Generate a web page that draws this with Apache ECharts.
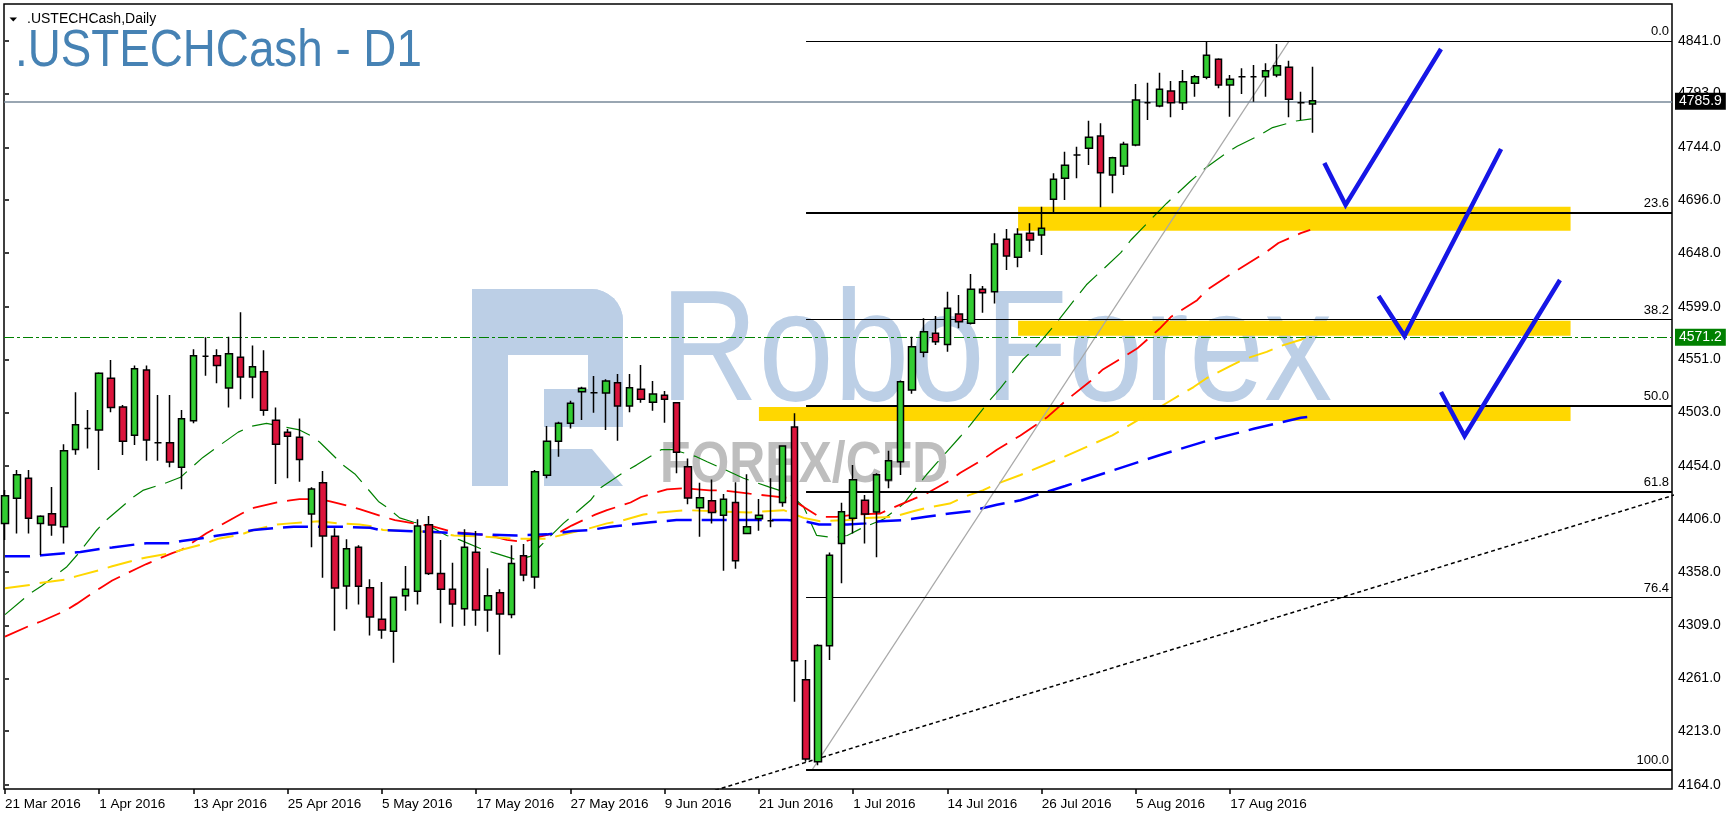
<!DOCTYPE html>
<html><head><meta charset="utf-8">
<script src="https://cdn.jsdelivr.net/npm/echarts@6/dist/echarts.min.js"></script>
<style>html,body{margin:0;padding:0;background:#fff;}#c{width:1730px;height:822px;}</style>
</head><body><div id="c"></div>
<script>
// ---------------- data ----------------
const dates = [
'21 Mar 2016','22 Mar 2016','23 Mar 2016','24 Mar 2016','28 Mar 2016','29 Mar 2016','30 Mar 2016','31 Mar 2016',
'1 Apr 2016','4 Apr 2016','5 Apr 2016','6 Apr 2016','7 Apr 2016','8 Apr 2016','11 Apr 2016','12 Apr 2016','13 Apr 2016','14 Apr 2016','15 Apr 2016','18 Apr 2016','19 Apr 2016','20 Apr 2016','21 Apr 2016','22 Apr 2016','25 Apr 2016','26 Apr 2016','27 Apr 2016','28 Apr 2016','29 Apr 2016',
'2 May 2016','3 May 2016','4 May 2016','5 May 2016','6 May 2016','9 May 2016','10 May 2016','11 May 2016','12 May 2016','13 May 2016','16 May 2016','17 May 2016','18 May 2016','19 May 2016','20 May 2016','23 May 2016','24 May 2016','25 May 2016','26 May 2016','27 May 2016','31 May 2016',
'1 Jun 2016','2 Jun 2016','3 Jun 2016','6 Jun 2016','7 Jun 2016','8 Jun 2016','9 Jun 2016','10 Jun 2016','13 Jun 2016','14 Jun 2016','15 Jun 2016','16 Jun 2016','17 Jun 2016','20 Jun 2016','21 Jun 2016','22 Jun 2016','23 Jun 2016','24 Jun 2016','27 Jun 2016','28 Jun 2016','29 Jun 2016','30 Jun 2016',
'1 Jul 2016','5 Jul 2016','6 Jul 2016','7 Jul 2016','8 Jul 2016','11 Jul 2016','12 Jul 2016','13 Jul 2016','14 Jul 2016','15 Jul 2016','18 Jul 2016','19 Jul 2016','20 Jul 2016','21 Jul 2016','22 Jul 2016','25 Jul 2016','26 Jul 2016','27 Jul 2016','28 Jul 2016','29 Jul 2016',
'1 Aug 2016','2 Aug 2016','3 Aug 2016','4 Aug 2016','5 Aug 2016','8 Aug 2016','9 Aug 2016','10 Aug 2016','11 Aug 2016','12 Aug 2016','15 Aug 2016','16 Aug 2016','17 Aug 2016','18 Aug 2016','19 Aug 2016','22 Aug 2016','23 Aug 2016','24 Aug 2016','25 Aug 2016','26 Aug 2016'
];
const open = [4402.0,4424.8,4443.0,4402.0,4410.8,4398.9,4469.3,4488.4,4486.9,4533.9,4507.8,4482.1,4541.5,4475.3,4475.3,4453.0,4495.4,4553.9,4554.5,4525.1,4553.0,4535.1,4539.9,4495.7,4484.8,4480.3,4410.5,4439.0,4390.2,4345.0,4380.2,4343.5,4314.7,4303.8,4336.2,4340.2,4400.8,4356.5,4342.0,4324.3,4375.7,4323.2,4338.9,4319.2,4372.6,4353.2,4445.7,4476.6,4493.0,4521.7,4520.8,4520.5,4529.9,4508.7,4523.9,4512.1,4518.5,4511.7,4453.5,4416.2,4422.6,4409.3,4421.1,4392.9,4406.2,4404.4,4421.1,4489.6,4259.8,4185.2,4290.7,4383.8,4406.6,4423.0,4412.3,4441.4,4458.1,4523.3,4557.6,4574.9,4564.8,4592.4,4584.0,4614.9,4612.7,4660.4,4644.0,4665.8,4664.3,4696.7,4715.8,4737.0,4743.1,4754.3,4718.8,4727.0,4746.1,4784.6,4781.6,4795.2,4784.6,4802.3,4807.7,4824.1,4800.7,4808.3,4808.3,4808.3,4809.8,4816.8,4784.6,4783.4];
const close = [4427.1,4446.2,4406.6,4408.4,4400.5,4468.1,4491.7,4488.4,4538.5,4507.5,4476.6,4542.6,4477.8,4475.3,4457.8,4497.2,4554.5,4553.9,4545.7,4556.3,4535.1,4544.5,4504.8,4473.9,4481.2,4460.2,4433.2,4390.5,4343.2,4378.9,4344.7,4316.8,4305.0,4334.7,4342.0,4399.6,4356.5,4342.0,4328.6,4380.2,4323.2,4336.2,4319.5,4365.6,4355.0,4449.0,4476.6,4493.0,4511.2,4524.8,4520.8,4531.5,4508.7,4525.4,4514.8,4519.6,4514.8,4466.6,4425.0,4425.3,4412.0,4423.9,4368.0,4398.9,4409.3,4404.4,4472.3,4277.0,4187.6,4291.0,4372.9,4412.6,4441.7,4410.5,4446.2,4459.0,4530.8,4562.7,4576.3,4567.2,4597.6,4585.4,4614.9,4611.8,4656.1,4645.2,4664.9,4659.7,4670.4,4714.9,4727.7,4737.0,4753.1,4720.9,4734.6,4746.8,4787.1,4784.6,4796.8,4784.6,4803.7,4808.3,4827.7,4800.7,4805.9,4808.3,4808.3,4813.7,4818.3,4787.7,4784.6,4786.4];
const low = [4386.8,4392.9,4392.9,4373.2,4390.8,4383.8,4464.4,4470.2,4450.5,4503.0,4464.1,4473.2,4459.0,4459.0,4453.0,4433.0,4493.0,4536.3,4529.4,4507.5,4514.8,4515.7,4499.9,4437.8,4443.0,4439.9,4380.2,4352.5,4304.3,4323.8,4328.3,4300.1,4297.1,4275.2,4322.5,4328.3,4355.0,4311.1,4307.9,4308.9,4308.9,4303.4,4282.5,4315.6,4349.3,4342.5,4443.0,4462.6,4488.4,4496.0,4502.6,4486.9,4477.2,4503.0,4511.7,4504.4,4493.5,4447.5,4419.3,4389.8,4402.0,4358.9,4360.7,4392.0,4395.3,4398.4,4417.1,4239.7,4185.2,4182.0,4277.7,4347.5,4392.9,4383.8,4371.1,4433.9,4446.0,4520.0,4553.0,4564.2,4558.1,4579.4,4583.0,4593.6,4602.1,4632.4,4634.9,4649.1,4646.1,4684.5,4696.1,4715.8,4727.9,4689.5,4702.2,4718.8,4745.0,4768.9,4780.4,4771.3,4778.0,4790.1,4806.0,4797.7,4771.9,4792.5,4785.5,4790.1,4807.7,4771.3,4768.9,4757.3];
const high = [4432.3,4450.5,4450.5,4409.3,4435.0,4473.9,4521.2,4505.1,4539.5,4550.6,4509.6,4545.7,4545.7,4518.7,4518.7,4505.1,4560.3,4571.2,4560.3,4571.8,4594.0,4563.9,4559.4,4507.5,4487.8,4497.5,4434.8,4449.6,4397.5,4387.5,4382.0,4351.1,4348.6,4335.5,4363.2,4405.7,4408.7,4386.8,4366.2,4396.6,4395.0,4361.1,4342.0,4382.0,4383.2,4450.5,4490.5,4494.4,4513.5,4526.3,4536.0,4533.0,4537.8,4537.8,4546.0,4531.5,4522.4,4511.9,4461.1,4439.0,4442.0,4428.7,4439.3,4446.6,4424.1,4443.0,4473.0,4502.1,4277.7,4292.0,4375.6,4420.8,4455.1,4427.8,4447.5,4468.1,4532.0,4571.8,4588.5,4590.6,4612.7,4609.7,4628.8,4617.9,4665.8,4669.7,4670.4,4674.9,4690.0,4720.4,4740.0,4744.6,4768.2,4765.9,4735.5,4749.1,4801.6,4802.8,4811.9,4804.3,4814.3,4809.8,4840.1,4825.0,4809.8,4815.9,4818.9,4820.4,4838.0,4822.8,4794.6,4817.4];

const xTickIdx = [0,8,16,24,32,40,48,56,64,72,80,88,96,104];
const yTicks = [4164,4213,4261,4309,4358,4406,4454,4503,4551,4599,4648,4696,4744,4793,4841];

// moving averages: [bar index, price]
const maGreen = [[0,4319],[2.1,4338],[3.1,4345],[5.2,4362],[6.1,4373],[7.8,4396],[8.6,4405],[10.9,4426],[11.7,4432],[13.7,4439],[14.9,4444],[16.8,4462],[17.7,4469],[19.8,4485],[20.8,4490],[22.2,4493],[23.6,4490],[25,4487],[25.9,4482],[26.7,4476],[28.7,4455],[29.7,4447],[31.7,4422],[32.5,4416],[33.5,4407],[34.7,4403],[35.8,4401],[37.5,4391],[38.6,4387],[40.6,4378],[41.6,4375],[43.4,4369],[44.6,4372],[45.4,4381],[47.4,4402],[49.7,4423],[50.5,4434],[52.6,4449],[53.6,4455],[55.7,4469],[56.7,4469],[58.6,4463],[59.6,4458],[61.5,4449],[62.7,4443],[64.9,4435],[66.6,4429],[67.8,4417],[68.9,4391],[70.3,4389],[71.5,4391],[72.6,4397],[74.6,4406],[76.3,4420],[78.2,4446],[79.1,4457],[81.1,4481],[81.9,4491],[83.6,4514],[84.5,4525],[86.4,4551],[87.4,4561],[89.3,4585],[90.1,4596],[91.8,4619],[92.7,4628],[94.7,4648],[95.6,4660],[97.5,4681],[98.6,4693],[100.6,4713],[102,4726],[103.7,4739],[104.6,4745],[106.5,4755],[107.6,4762],[109.6,4768],[110.9,4770]];
const maRed = [[0,4299],[2.1,4309],[3.1,4313],[5.2,4323],[6.1,4329],[8.2,4344],[9.1,4350],[11.2,4361],[12,4365],[14.2,4375],[15,4378],[17.1,4393],[18.1,4399],[20.1,4411],[21.1,4416],[23.1,4421],[24.2,4423],[25,4424],[26.7,4424],[27.6,4422],[29.1,4418],[30.1,4415],[32.1,4408],[33.1,4405],[34.7,4402],[36.4,4399],[38.1,4394],[39.2,4393],[41.2,4391],[42.6,4387],[44,4385],[45.4,4390],[47.1,4394],[48.1,4400],[50.1,4410],[51.1,4414],[53.1,4421],[54,4426],[56.2,4433],[57.6,4434],[59.8,4432],[61,4432],[63.2,4429],[64.9,4427],[66.6,4425],[67.8,4417],[69.1,4408],[70.6,4408],[72.3,4410],[74.3,4411],[75.1,4415],[77.1,4424],[78.2,4429],[80.2,4441],[81.1,4448],[83,4460],[84.2,4469],[86.2,4482],[88.4,4498],[90.1,4514],[92.1,4531],[93.2,4542],[95.2,4555],[96.1,4561],[98,4579],[99,4590],[101.2,4605],[102,4614],[104.1,4629],[105,4635],[107.1,4649],[108.1,4657],[110,4666],[110.8,4669]];
const maYellow = [[0,4343],[2.1,4346],[3.1,4348],[5.2,4351],[6.1,4354],[8.2,4360],[9.1,4363],[11.2,4369],[12,4371],[14.2,4375],[15,4378],[17.1,4384],[18.1,4388],[20.1,4392],[21.1,4396],[23.1,4401],[24.2,4402],[26.7,4404],[28.2,4402],[30.1,4401],[31.3,4399],[32.1,4396],[34.4,4395],[36.4,4394],[38.1,4391],[40.6,4390],[43.1,4388],[46,4388],[48.2,4394],[49.1,4396],[51.1,4402],[52.2,4404],[54.2,4410],[55.6,4412],[57.9,4414],[60.4,4413],[63.2,4412],[66.1,4414],[67.8,4407],[69.2,4404],[71.5,4405],[73.1,4407],[75.4,4408],[77.1,4413],[78.2,4416],[80.2,4420],[81.4,4426],[83,4432],[84.2,4438],[86.2,4446],[90,4463],[94,4482],[99,4514],[100.9,4526],[102,4534],[104,4545],[105.1,4551],[107.1,4558],[108.2,4563],[110,4569],[110.8,4573]];
const maBlue = [[0,4372],[2.1,4372],[3.1,4373],[5.2,4375],[6.4,4376],[8.2,4379],[9.1,4380],[11.2,4383],[12,4384],[14.2,4384],[15,4386],[17.1,4389],[18.1,4391],[20.1,4394],[21.1,4396],[23.1,4398],[24.5,4399],[28.4,4399],[31,4398],[31.8,4396],[36.9,4394],[40,4392],[43.4,4391],[46,4392],[48.2,4395],[49.7,4396],[51.4,4399],[53.1,4401],[54.8,4403],[57,4405],[60.4,4405],[63.2,4405],[66.4,4405],[67.8,4404],[69.1,4401],[71.5,4401],[73.1,4402],[74.3,4404],[76.3,4405],[78.2,4408],[80.2,4411],[81.9,4413],[84.2,4419],[86.2,4423],[90,4436],[94,4450],[98,4464],[102,4477],[106,4488],[110,4498],[110.8,4499]];

// Fibonacci retracement
const fibNames = ['0.0','23.6','38.2','50.0','61.8','76.4','100.0'];
const fibPrices = [4840.7,4684.2,4587.4,4509.2,4431.0,4334.4,4177.6];
const fibStartIdx = 68;
const fibTrend = [[68.5,4177.6],[109,4840.7]];
// yellow zones: [fromIdx, toIdx, lowPrice, highPrice]
const zones = [[86.0,132.9,4668.2,4690.0],[86.0,132.9,4572.7,4586.3],[64.0,132.9,4495.1,4507.8]];
const supportTrend = [[58,4151.7],[142,4428.8]];
const bidPrice = 4785.9;
const levelPrice = 4571.2;
const checks = [
  [[112.0,4729.8],[113.8,4691.6],[121.9,4833.5]],
  [[116.6,4608.8],[118.8,4572.4],[127.0,4742.5]],
  [[121.9,4521.5],[123.9,4481.5],[132.0,4623.4]]
];

// ---------------- chart ----------------
const FONT = 'Liberation Sans';
const X_MIN = -0.085, X_MAX = 141.51;
const fibWidth = {'0.0':1,'23.6':2,'38.2':1,'50.0':2,'61.8':2,'76.4':1,'100.0':2};
const chart = echarts.init(document.getElementById('c'), null, {renderer:'canvas'});

const candleData = dates.map((d,i)=>[i, open[i], close[i], low[i], high[i]]);
const maDash = [25,10];
function maSeries(data, color, width){
  return {type:'line', data, showSymbol:false, symbol:'none', z:3, silent:true,
    lineStyle:{color, width, type:maDash}};
}

const option = {
  animation:false,
  backgroundColor:'#fff',
  grid:{left:4, top:4, right:58, bottom:33, show:true, borderColor:'#000', borderWidth:1.5, backgroundColor:'transparent'},
  xAxis:{type:'value', min:X_MIN, max:X_MAX, position:'bottom',
    axisLine:{show:false}, splitLine:{show:false},
    axisTick:{show:true, customValues:xTickIdx, length:5, lineStyle:{color:'#000', width:1.5}},
    axisLabel:{show:true, customValues:xTickIdx, formatter:v=>dates[Math.round(v)], align:'left', margin:8, color:'#000', fontSize:13.5, fontFamily:FONT}},
  yAxis:{type:'value', position:'right', min:4160.4, max:4874.4, scale:true,
    axisLine:{show:false}, splitLine:{show:false},
    axisTick:{show:true, customValues:yTicks, length:4, lineStyle:{color:'#000', width:1.5}},
    axisLabel:{show:true, customValues:yTicks, formatter:v=>v.toFixed(1), margin:6, color:'#000', fontSize:14, fontFamily:FONT}},
  graphic:{elements:[
    // watermark logo
    {type:'group', z:-1, silent:true, children:[
      {type:'rect', shape:{x:472,y:289,width:36,height:197}, style:{fill:'#BCCFE6'}},
      {type:'rect', shape:{x:472,y:289,width:151,height:66,r:[0,32,0,0]}, style:{fill:'#BCCFE6'}},
      {type:'rect', shape:{x:588,y:289,width:35,height:138,r:[0,32,0,0]}, style:{fill:'#BCCFE6'}},
      {type:'rect', shape:{x:544,y:389,width:79,height:38}, style:{fill:'#BCCFE6'}},
      {type:'polygon', shape:{points:[[544,449],[592,449],[623,486],[544,486]]}, style:{fill:'#BCCFE6'}},
      {type:'text', x:660, y:356, scaleX:0.86, style:{text:'RoboForex', fill:'#BCCFE6', fontSize:158, fontFamily:FONT, verticalAlign:'middle'}},
      {type:'text', x:660, y:466, scaleX:0.86, style:{text:'FOREX/CFD', fill:'#BEBEBE', fontSize:58, fontWeight:'bold', fontFamily:FONT, verticalAlign:'middle'}}
    ]},
    // titles
    {type:'polygon', z:10, shape:{points:[[9.5,17.5],[17,17.5],[13.25,21.5]]}, style:{fill:'#000'}},
    {type:'text', z:10, x:27, y:19.5, style:{text:'.USTECHCash,Daily', fill:'#000', fontSize:14, fontFamily:FONT, verticalAlign:'middle'}},
    {type:'text', z:10, x:15, y:52, scaleX:0.88, style:{text:'.USTECHCash - D1', fill:'#4682B4', fontSize:52, fontFamily:FONT, verticalAlign:'middle'}}
  ]},
  series:[
    // yellow zones
    {type:'line', data:[], z:1, silent:true,
      markArea:{silent:true, itemStyle:{color:'#FFD700', opacity:1},
        data:zones.map(zn=>[{coord:[zn[0],zn[3]]},{coord:[zn[1],zn[2]]}])}},
    // fib levels
    {type:'line', data:[], z:2, silent:true,
      markLine:{silent:true, symbol:['none','none'], animation:false,
        data:fibPrices.map((p,k)=>[
          {coord:[fibStartIdx,p], lineStyle:{color:'#000', width:fibWidth[fibNames[k]], type:'solid'},
           label:{show:true, position:'insideEndTop', formatter:fibNames[k], color:'#000', fontSize:13, fontFamily:FONT, distance:3}},
          {coord:[X_MAX,p]}
        ])}},
    maSeries(maGreen,'#008000',1.2),
    maSeries(maRed,'#FF0000',1.8),
    maSeries(maYellow,'#FFD700',2),
    maSeries(maBlue,'#0000FF',2.5),
    {type:'line', data:fibTrend, showSymbol:false, symbol:'none', z:4, silent:true, lineStyle:{color:'#A8A8A8', width:1.2}},
    {type:'line', data:supportTrend, showSymbol:false, symbol:'none', z:4, silent:true, lineStyle:{color:'#000', width:1.5, type:[4,3]}},
    {type:'candlestick', data:candleData, z:5, barWidth:7, silent:true,
      itemStyle:{color:'#32CD32', color0:'#DC143C', borderColor:'#000', borderColor0:'#000', borderColorDoji:'#000', borderWidth:1.5}},
    // price lines
    {type:'line', data:[], z:6, silent:true,
      markLine:{silent:true, symbol:['none','none'], animation:false, data:[
        {yAxis:bidPrice, lineStyle:{color:'#778899', width:1.5, type:'solid'},
          label:{show:true, position:'end', distance:3, formatter:bidPrice.toFixed(1), backgroundColor:'#000', color:'#fff', padding:[2,4,1,4], fontSize:14, fontFamily:FONT}},
        {yAxis:levelPrice, lineStyle:{color:'#008000', width:1.2, type:[10,3,3,3]},
          label:{show:true, position:'end', distance:3, formatter:levelPrice.toFixed(1), backgroundColor:'#008000', color:'#fff', padding:[2,4,1,4], fontSize:14, fontFamily:FONT}}
      ]}},
    ...checks.map(c=>({type:'line', data:c, showSymbol:false, symbol:'none', z:7, silent:true, lineStyle:{color:'#1616E6', width:4.5, join:'miter'}}))
  ]
};
chart.setOption(option);
</script></body></html>
